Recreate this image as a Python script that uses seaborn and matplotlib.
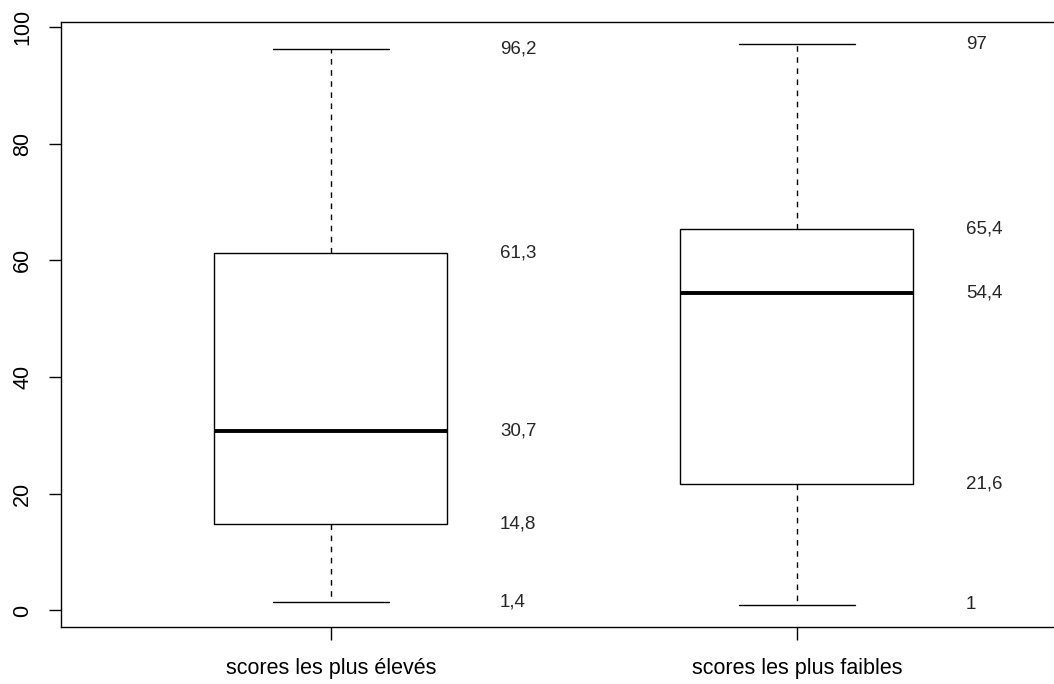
import matplotlib
matplotlib.use("Agg")
import matplotlib.pyplot as plt
import seaborn as sns
import pandas as pd

# five-number summaries
groups = ["scores les plus élevés", "scores les plus faibles"]
high_scores = [1.4, 14.8, 30.7, 61.3, 96.2]
low_scores = [1.0, 21.6, 54.4, 65.4, 97.0]
high_labels = ["1,4", "14,8", "30,7", "61,3", "96,2"]
low_labels = ["1", "21,6", "54,4", "65,4", "97"]

df = pd.DataFrame({
    "groupe": [groups[0]] * len(high_scores) + [groups[1]] * len(low_scores),
    "score": high_scores + low_scores,
})

sns.set_style("ticks")
plt.rcParams["font.family"] = ["Liberation Sans", "DejaVu Sans"]

fig = plt.figure(figsize=(10.54, 6.84), dpi=100)
# right spine sits just past the image edge, as in the reference
ax = fig.add_axes([0.0579, 0.0833, 0.9431, 0.8845])

sns.boxplot(
    data=df, x="groupe", y="score", order=groups, ax=ax,
    color="white", linecolor="black", linewidth=1.0, width=0.5,
    whis=1.5,
    medianprops={"linewidth": 2.8, "color": "black"},
    whiskerprops={"linestyle": (0, (4, 4))},
)

for i, (vals, labs) in enumerate([(high_scores, high_labels), (low_scores, low_labels)]):
    for v, lab in zip(vals, labs):
        ax.text(i + 0.363, v, lab, ha="left", va="center", fontsize=13.5)

ax.set_xlim(-0.579, 1.554)
ax.set_ylim(-2.84, 100.84)
ax.set_yticks([0, 20, 40, 60, 80, 100])
ax.set_xlabel("")
ax.set_ylabel("")
for s in ax.spines.values():
    s.set_visible(True)
    s.set_linewidth(1.0)
    s.set_color("black")
ax.tick_params(axis="both", direction="out", length=9, width=1.0, colors="black", labelsize=15.5)
ax.tick_params(axis="y", pad=11)
ax.tick_params(axis="x", pad=13)
plt.setp(ax.get_yticklabels(), rotation=90, va="center")

fig.savefig("out.png", dpi=100)
